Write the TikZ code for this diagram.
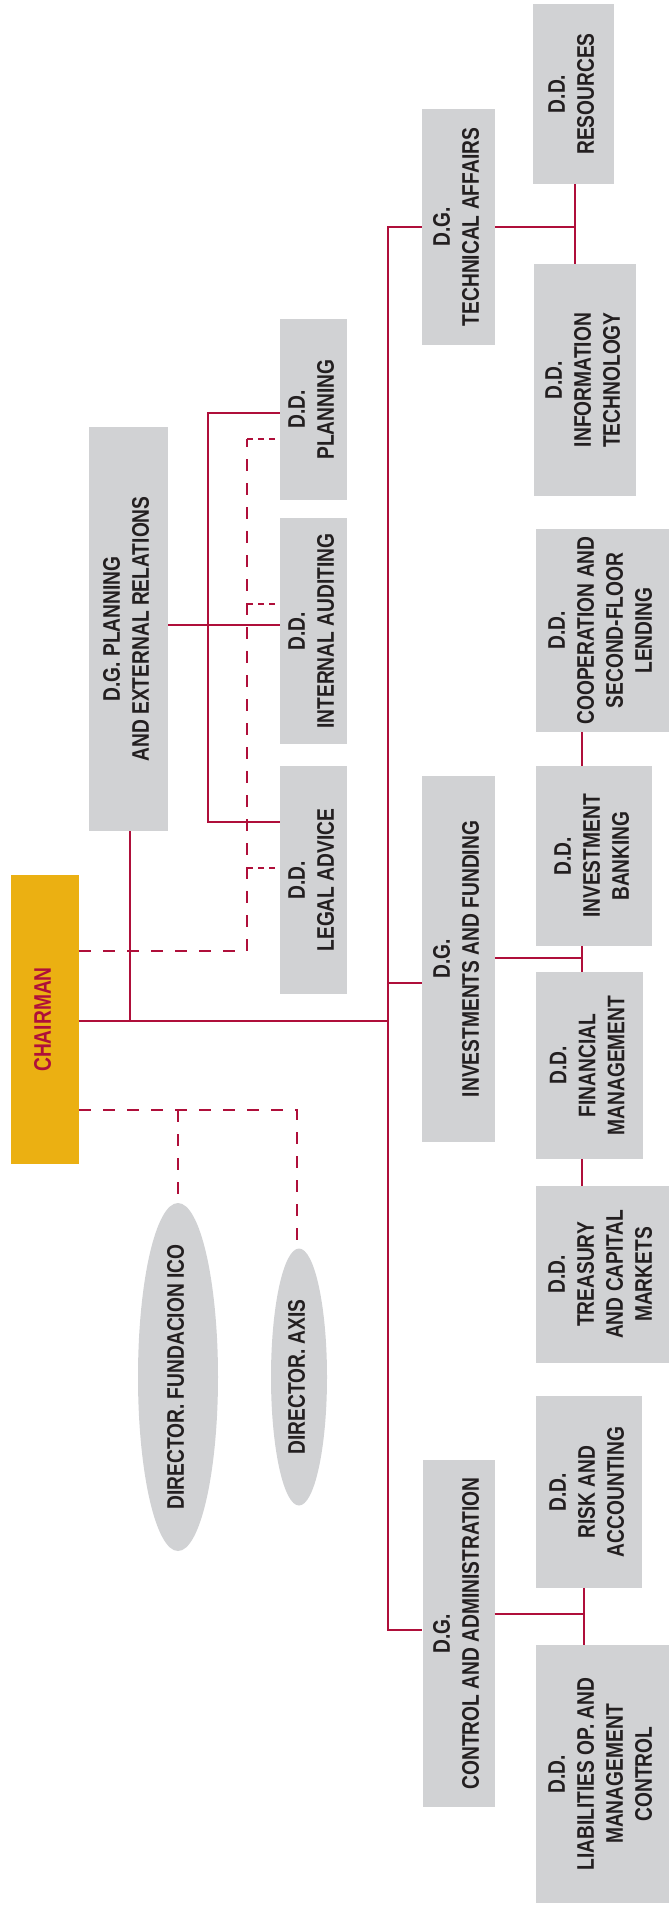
\documentclass[tikz,border=0pt]{standalone}
\usepackage{fontspec}
\setmainfont{Liberation Sans}[FakeStretch=0.8]
\usepackage{graphicx}
\usetikzlibrary{shapes.geometric}
\definecolor{icored}{HTML}{AF0F3A}
\definecolor{icogold}{HTML}{EBB012}
\definecolor{boxgray}{HTML}{D1D2D4}
\definecolor{inkgray}{HTML}{231F20}
\newcommand{\vlabel}[1]{\rotatebox{90}{\begin{tabular}{@{}c@{}}#1\end{tabular}}}
\tikzset{
  orgfont/.style={font=\fontsize{24}{29}\selectfont\bfseries},
  dims/.style 2 args={minimum width=#1pt,minimum height=#2pt},
  unit/.style={fill=boxgray,inner sep=0pt,text=inkgray,orgfont},
  chief/.style={fill=icogold,inner sep=0pt,text=icored,orgfont},
  director/.style={ellipse,fill=boxgray,inner sep=0pt,
    label={[text=inkgray,orgfont]center:{\vlabel{#1}}}},
  link/.style={icored,line width=2.4pt},
  staff/.style={icored,line width=2.6pt,dash pattern=on 12pt off 12pt},
  advice/.style={icored,line width=2.6pt,dash pattern=on 6pt off 5pt},
}
\begin{document}
\begin{tikzpicture}[x=1pt,y=-1pt]
\useasboundingbox (0,0) rectangle (669,1910);
\node[chief,dims={68}{289}] (chair) at (45,1019.5) {\vlabel{CHAIRMAN}};
\node[unit,dims={79}{404}] (dgplan) at (128.5,629) {\vlabel{D.G. PLANNING\\AND EXTERNAL RELATIONS}};
\node[unit,dims={67}{181}] (planning) at (313.5,409.5) {\vlabel{D.D.\\PLANNING}};
\node[unit,dims={67}{226}] (audit) at (313.5,631) {\vlabel{D.D.\\INTERNAL AUDITING}};
\node[unit,dims={67}{228}] (legal) at (313.5,880) {\vlabel{D.D.\\LEGAL ADVICE}};
\node[unit,dims={73}{236}] (dgtech) at (458.5,227) {\vlabel{D.G.\\TECHNICAL AFFAIRS}};
\node[unit,dims={81}{180}] (resources) at (573.5,94) {\vlabel{D.D.\\RESOURCES}};
\node[unit,dims={102}{232}] (infotech) at (585,380) {\vlabel{D.D.\\INFORMATION\\TECHNOLOGY}};
\node[unit,dims={73}{366}] (dginv) at (458.5,959) {\vlabel{D.G.\\INVESTMENTS AND FUNDING}};
\node[unit,dims={133}{203}] (coop) at (602.5,630.5) {\vlabel{D.D.\\COOPERATION AND\\SECOND-FLOOR\\LENDING}};
\node[unit,dims={116}{180}] (invbank) at (594,856) {\vlabel{D.D.\\INVESTMENT\\BANKING}};
\node[unit,dims={107}{187}] (finman) at (589.5,1065.5) {\vlabel{D.D.\\FINANCIAL\\MANAGEMENT}};
\node[unit,dims={133}{177}] (treasury) at (602.5,1274.5) {\vlabel{D.D.\\TREASURY\\AND CAPITAL\\MARKETS}};
\node[unit,dims={72}{347}] (dgctrl) at (458.5,1633.5) {\vlabel{D.G.\\CONTROL AND ADMINISTRATION}};
\node[unit,dims={106}{192}] (risk) at (589,1492) {\vlabel{D.D.\\RISK AND\\ACCOUNTING}};
\node[unit,dims={133}{258}] (liab) at (602.5,1774) {\vlabel{D.D.\\LIABILITIES OP. AND\\MANAGEMENT\\CONTROL}};
\node[director={DIRECTOR. FUNDACION ICO},dims={80}{348}] (fund) at (178,1377) {};
\node[director={DIRECTOR. AXIS},dims={56}{257}] (axis) at (299,1377) {};
\coordinate (tk-top) at (388,227);
\coordinate (tk-chair) at (388,1021);
\coordinate (tk-inv) at (388,983);
\coordinate (tk-bot) at (388,1630);
\coordinate (pl-foot) at (130,1021);
\coordinate (pl-top) at (208,413);
\coordinate (pl-bot) at (208,822);
\coordinate (adv-top) at (247,439);
\coordinate (adv-mid) at (247,604);
\coordinate (adv-low) at (247,868);
\coordinate (adv-bot) at (247,951);
\coordinate (fd-mid) at (178,1110);
\coordinate (fd-end) at (297,1110);
\coordinate (te-j) at (575,227);
\coordinate (in-j) at (582,958);
\coordinate (ct-j) at (584,1614);
\draw[link] (chair.east |- tk-chair) -- (tk-chair);
\draw[link] (dgtech.west |- tk-top) -- (tk-top) -- (tk-bot) -- (dgctrl.west |- tk-bot);
\draw[link] (tk-inv) -- (dginv.west |- tk-inv);
\draw[link] (pl-foot) -- (pl-foot |- dgplan.south);
\draw[link] (planning.west |- pl-top) -- (pl-top) -- (pl-bot) -- (legal.west |- pl-bot);
\draw[link] (dgplan.east |- 0,625) -- (audit.west |- 0,625);
\draw[staff] (chair.east |- adv-bot) -- (adv-bot) -- (adv-top);
\draw[advice] (adv-top) -- (planning.west |- adv-top);
\draw[advice] (adv-mid) -- (audit.west |- adv-mid);
\draw[advice] (adv-low) -- (legal.west |- adv-low);
\draw[staff] (chair.east |- fd-end) -- (fd-end) -- (fd-end |- axis.north);
\draw[staff] (fd-mid) -- (fd-mid |- fund.north);
\draw[link] (dgtech.east) -- (te-j);
\draw[link] (resources.south -| te-j) -- (infotech.north -| te-j);
\draw[link] (dginv.east |- in-j) -- (in-j);
\draw[link] (coop.south -| in-j) -- (invbank.north -| in-j);
\draw[link] (invbank.south -| in-j) -- (finman.north -| in-j);
\draw[link] (finman.south -| in-j) -- (treasury.north -| in-j);
\draw[link] (dgctrl.east |- ct-j) -- (ct-j);
\draw[link] (risk.south -| ct-j) -- (liab.north -| ct-j);
\end{tikzpicture}
\end{document}
